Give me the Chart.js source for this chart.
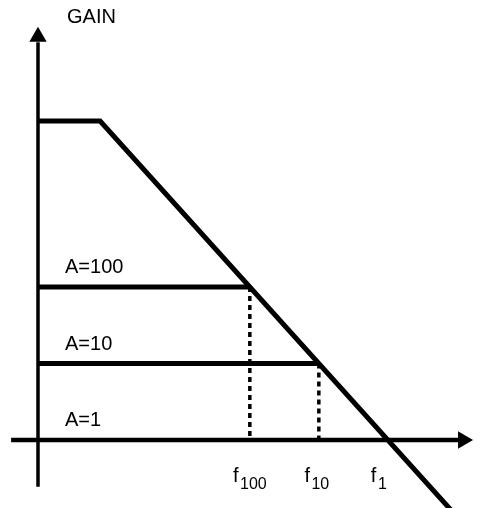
<!DOCTYPE html>
<html>
<head>
<meta charset="utf-8">
<script src="https://cdn.jsdelivr.net/npm/chart.js@4/dist/chart.umd.min.js"></script>
<style>
  html, body { margin: 0; padding: 0; background: #fff; }
  #wrap { width: 490px; height: 508px; position: relative; }
</style>
</head>
<body>
<div id="wrap"><canvas id="bode"></canvas></div>
<script>
// x = log frequency (decades from the gain axis), y = log10 gain
const openLoopGain = 4.17;       // plateau level
const poleFreq = 0.9;            // first pole (knee)
const closedGains = [2, 1, 0];   // A=100, A=10, A=1
const gainNames = ['A=100', 'A=10', 'A=1'];
const crossFreqs = [3.07, 4.07, 5.07]; // f100, f10, f1
const freqSubs = ['100', '10', '1'];
const lineEnd = 6.1;
const yAxisRange = [-0.61, 5.2];
const xAxisRange = [-0.39, 6.16];

const BLACK = '#000';

function seg(data, extra) {
    return Object.assign({
        data: data,
        borderColor: BLACK,
        borderWidth: 4,
        pointRadius: 0,
        showLine: true,
        fill: false,
        tension: 0
    }, extra || {});
}

const datasets = [
    seg([{x: 0, y: yAxisRange[0]}, {x: 0, y: yAxisRange[1]}], {borderWidth: 3.5}),
    seg([{x: xAxisRange[0], y: 0}, {x: xAxisRange[1], y: 0}], {borderWidth: 4.5}),
    seg([
        {x: 0, y: openLoopGain},
        {x: poleFreq, y: openLoopGain},
        {x: lineEnd, y: openLoopGain - (lineEnd - poleFreq)}
    ], {borderWidth: 5}),
    seg([{x: 0, y: closedGains[0]}, {x: crossFreqs[0], y: closedGains[0]}], {borderWidth: 5}),
    seg([{x: 0, y: closedGains[1]}, {x: crossFreqs[1], y: closedGains[1]}], {borderWidth: 5}),
    seg([{x: crossFreqs[0], y: closedGains[0]}, {x: crossFreqs[0], y: 0}], {borderWidth: 3.5, borderDash: [5, 4]}),
    seg([{x: crossFreqs[1], y: closedGains[1]}, {x: crossFreqs[1], y: 0}], {borderWidth: 3.5, borderDash: [5, 4]}),
    // arrow heads
    {
        data: [{x: 0, y: yAxisRange[1] + 0.07}],
        showLine: false,
        pointStyle: 'triangle',
        pointRadius: 10,
        pointRotation: 0,
        backgroundColor: BLACK,
        borderColor: BLACK,
        borderWidth: 0
    },
    {
        data: [{x: xAxisRange[1], y: 0}],
        showLine: false,
        pointStyle: 'triangle',
        pointRadius: 10,
        pointRotation: 90,
        backgroundColor: BLACK,
        borderColor: BLACK,
        borderWidth: 0
    }
];

// text labels
const labelPlugin = {
    id: 'labels',
    afterDatasetsDraw(chart) {
        const ctx = chart.ctx;
        const xs = chart.scales.x, ys = chart.scales.y;
        ctx.save();
        ctx.fillStyle = BLACK;
        ctx.textBaseline = 'alphabetic';
        ctx.textAlign = 'left';
        ctx.font = '20px "Liberation Sans", Arial, sans-serif';

        ctx.fillText('GAIN', xs.getPixelForValue(0) + 29, ys.getPixelForValue(yAxisRange[1] + 0.07) - 14);

        gainNames.forEach((t, i) => {
            ctx.fillText(t, xs.getPixelForValue(0) + 27, ys.getPixelForValue(closedGains[i]) - 14);
        });

        const base = ys.getPixelForValue(0) + 42;
        crossFreqs.forEach((f, i) => {
            ctx.font = '20px "Liberation Sans", Arial, sans-serif';
            const fw = ctx.measureText('f').width;
            ctx.font = '16px "Liberation Sans", Arial, sans-serif';
            const sw = ctx.measureText(freqSubs[i]).width;
            const total = fw + 1.5 + sw;
            let left = xs.getPixelForValue(f) - total / 2;
            if (i === 1) left -= 2;
            if (i === 2) left -= 9;
            ctx.font = '20px "Liberation Sans", Arial, sans-serif';
            ctx.fillText('f', left, base);
            ctx.font = '16px "Liberation Sans", Arial, sans-serif';
            ctx.fillText(freqSubs[i], left + fw + 1.5, base + 7);
        });
        ctx.restore();
    }
};

new Chart(document.getElementById('bode'), {
    type: 'scatter',
    data: { datasets: datasets },
    options: {
        responsive: true,
        maintainAspectRatio: false,
        animation: false,
        layout: { padding: 0, autoPadding: false },
        plugins: { legend: { display: false }, tooltip: { enabled: false } },
        scales: {
            x: { type: 'linear', display: false, min: -38 / 69, max: -38 / 69 + 490 / 69 },
            y: { type: 'linear', display: false, min: 440 / 76.5 - 508 / 76.5, max: 440 / 76.5 }
        }
    },
    plugins: [labelPlugin]
});
</script>
</body>
</html>
